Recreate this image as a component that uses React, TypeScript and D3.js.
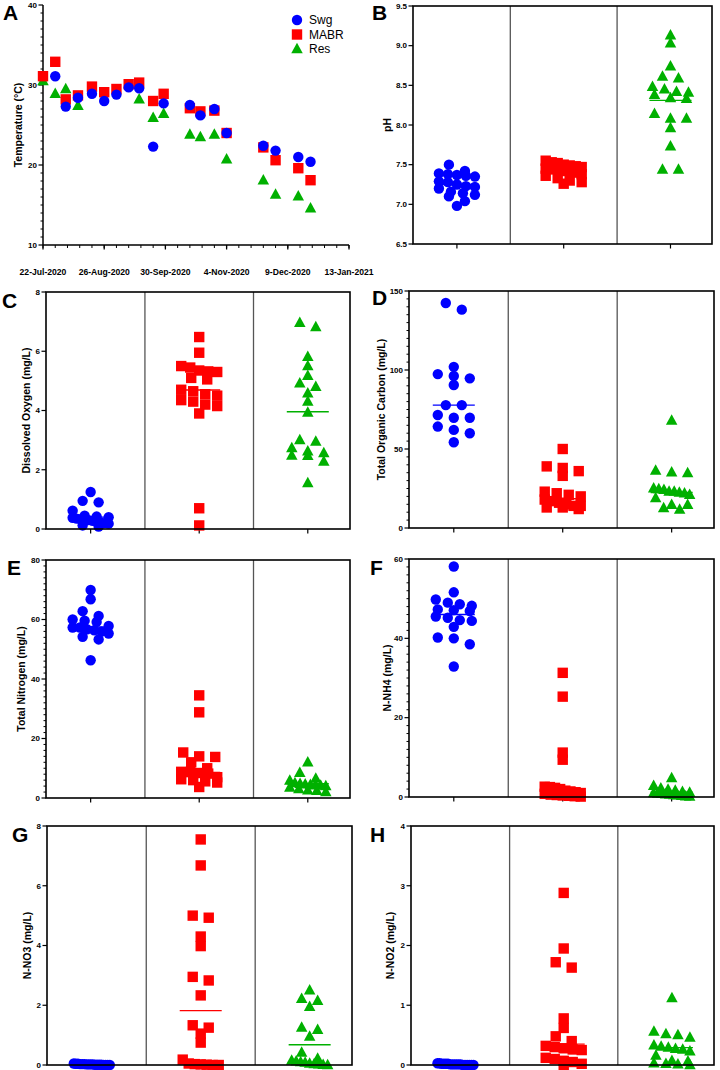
import React from 'react';
import * as d3 from 'd3';

const BLUE = '#0000ff';
const RED = '#ff0000';
const GREEN = '#00b000';
const COLORS = [BLUE, RED, GREEN];
const FONT = "'Liberation Sans', Arial, Helvetica, sans-serif";

const groups = ['Swg', 'MABR', 'Res'];

// ---------- Panel A: temperature time series ----------
const tempDates = [
  '2020-07-22', '2020-07-29', '2020-08-04', '2020-08-11', '2020-08-19', '2020-08-26',
  '2020-09-02', '2020-09-09', '2020-09-15', '2020-09-23', '2020-09-29', '2020-10-14',
  '2020-10-20', '2020-10-28', '2020-11-04', '2020-11-25', '2020-12-02', '2020-12-15', '2020-12-22',
];
const tempSwg = [null, 31.1, 27.3, 28.4, 28.9, 28.0, 28.8, 29.7, 29.6, 22.3, 27.7, 27.5, 26.2, 27.0, 24.0, 22.4, 21.8, 21.0, 20.4];
const tempMABR = [31.1, 32.9, 28.2, 28.7, 29.8, 29.1, 29.5, 30.1, 30.3, 28.0, 28.9, 27.1, 26.7, 26.8, 24.0, 22.2, 20.6, 19.6, 18.1];
const tempRes = [30.5, 28.9, 29.5, 27.4, null, null, null, null, 28.2, 25.9, 26.4, 23.8, 23.5, 23.8, 20.7, 18.1, 16.3, 16.1, 14.6];
const dateTickLabels = ['2020-07-22', '2020-08-26', '2020-09-30', '2020-11-04', '2020-12-09', '2021-01-13'];

// ---------- Panel B: pH ----------
const phSwg = [7.50, 7.42, 7.39, 7.38, 7.37, 7.36, 7.35, 7.29, 7.28, 7.25, 7.23, 7.22, 7.20, 7.16, 7.14, 7.12, 7.10, 7.04, 6.98];
const phMABR = [7.55, 7.53, 7.52, 7.50, 7.49, 7.48, 7.47, 7.45, 7.44, 7.43, 7.42, 7.40, 7.38, 7.36, 7.33, 7.30, 7.28, 7.26];
const phRes = [9.13, 9.03, 8.74, 8.61, 8.59, 8.48, 8.45, 8.42, 8.41, 8.38, 8.34, 8.33, 8.14, 8.08, 8.08, 7.96, 7.73, 7.44, 7.44];
const phMeans = [7.25, 7.42, 8.31];

// ---------- Panel C: dissolved oxygen ----------
const doSwg = [1.25, 0.95, 0.90, 0.62, 0.45, 0.42, 0.40, 0.38, 0.35, 0.33, 0.32, 0.30, 0.28, 0.25, 0.22, 0.20, 0.18, 0.12, 0.08];
const doMABR = [6.48, 5.95, 5.50, 5.45, 5.35, 5.32, 5.30, 5.10, 5.05, 4.70, 4.65, 4.55, 4.50, 4.35, 4.30, 4.20, 4.15, 3.90, 0.70, 0.12];
const doRes = [6.96, 6.82, 5.81, 5.50, 5.17, 4.92, 4.80, 4.58, 4.30, 3.93, 3.00, 2.95, 2.73, 2.62, 2.56, 2.48, 2.47, 2.28, 1.55];
const doMeans = [0.40, 4.69, 3.96];

// ---------- Panel D: total organic carbon ----------
const tocSwg = [142.4, 138.2, 102, 97.4, 96.2, 94.7, 90.5, 77.8, 77.8, 71.5, 69.8, 69.8, 64.2, 62.1, 60.0, 54.3];
const tocMABR = [50, 39, 38, 36, 33, 23, 22, 21, 20, 18, 17, 16, 15, 14, 14, 13, 13, 12];
const tocRes = [68, 36.4, 35.3, 34.7, 25.2, 24.6, 24.2, 23.1, 23.1, 22.5, 22, 21, 18.9, 14.7, 14.7, 12.6, 11.6];
const tocMeans = [77.8, 18.5, 22.5];

// ---------- Panel E: total nitrogen ----------
const tnSwg = [69.9, 66.8, 62.8, 61.2, 60.0, 59.6, 59.2, 57.8, 57.3, 57.3, 56.7, 56.4, 55.9, 55.3, 54.2, 53.3, 46.3];
const tnMABR = [34.5, 28.8, 15.3, 14.0, 13.8, 12.0, 10.0, 8.8, 8.7, 8.4, 8.2, 7.0, 6.3, 6.0, 5.6, 5.2, 3.7];
const tnRes = [12.0, 8.5, 6.5, 5.9, 5.0, 4.8, 4.6, 4.4, 4.3, 4.2, 4.0, 3.5, 3.0, 2.6, 2.4, 2.0];
const tnMeans = [57.5, 8.6, 4.8];

// ---------- Panel F: N-NH4 ----------
const nh4Swg = [58.1, 51.6, 49.8, 49.0, 48.6, 48.2, 47.3, 47.1, 46.9, 45.5, 45.2, 44.6, 44.4, 42.9, 40.2, 40.0, 38.5, 32.9];
const nh4MABR = [31.3, 25.3, 11.2, 9.4, 2.6, 2.5, 2.3, 2.0, 1.6, 1.4, 1.2, 1.0, 0.8, 0.6, 0.5, 0.4, 0.3, 0.2, 0.1];
const nh4Res = [4.8, 2.8, 2.2, 1.9, 1.6, 1.3, 1.1, 1.0, 0.9, 0.8, 0.7, 0.6, 0.5, 0.4, 0.3, 0.2, 0.1];
const nh4Means = [46.0, 1.4, 1.2];

// ---------- Panel G: N-NO3 ----------
const no3Swg = [0.05, 0.04, 0.04, 0.03, 0.03, 0.03, 0.02, 0.02, 0.02, 0.02, 0.01, 0.01, 0.01, 0.01, 0.0, 0.0, 0.0, 0.0];
const no3MABR = [7.55, 6.68, 5.0, 4.93, 4.3, 3.98, 2.95, 2.83, 2.33, 1.33, 1.25, 1.05, 0.75, 0.18, 0.05, 0.03, 0.02, 0.01, 0.0, 0.0];
const no3Res = [2.5, 2.22, 2.15, 1.95, 1.25, 1.18, 0.95, 0.42, 0.22, 0.15, 0.12, 0.1, 0.08, 0.05, 0.03, 0.02, 0.01, 0.0];
const no3Means = [0.02, 1.82, 0.68];

// ---------- Panel H: N-NO2 ----------
const no2Swg = [0.03, 0.03, 0.02, 0.02, 0.02, 0.02, 0.01, 0.01, 0.01, 0.01, 0.01, 0.01, 0.0, 0.0, 0.0, 0.0, 0.0, 0.0];
const no2MABR = [2.88, 1.95, 1.72, 1.63, 0.78, 0.62, 0.48, 0.40, 0.32, 0.30, 0.28, 0.26, 0.25, 0.12, 0.10, 0.07, 0.05, 0.02, 0.0];
const no2Res = [1.12, 0.56, 0.52, 0.50, 0.46, 0.33, 0.31, 0.29, 0.27, 0.26, 0.23, 0.16, 0.07, 0.06, 0.03, 0.02, 0.01, 0.0];
const no2Means = [0.01, 0.35, 0.29];

// ---------- Layout ----------
type DotPanel = {
  letter: string; label: string;
  x0: number; x1: number; y0: number; y1: number;
  domain: [number, number]; step: number; minor: number | null; fmt: string;
  data: number[][]; means: number[];
  letterX: number; letterY: number; labelX: number; bottomTicks: boolean;
};

const dotPanels: DotPanel[] = [
  { letter: 'B', label: 'pH', x0: 413, x1: 712, y0: 6, y1: 244, domain: [6.5, 9.5], step: 0.5, minor: null, fmt: '.1f',
    data: [phSwg, phMABR, phRes], means: phMeans, letterX: 372, letterY: 20, labelX: 387, bottomTicks: true },
  { letter: 'C', label: 'Dissolved Oxygen (mg/L)', x0: 46, x1: 350, y0: 292, y1: 529, domain: [0, 8], step: 2, minor: null, fmt: 'd',
    data: [doSwg, doMABR, doRes], means: doMeans, letterX: 2, letterY: 308, labelX: 26, bottomTicks: true },
  { letter: 'D', label: 'Total Organic Carbon (mg/L)', x0: 409, x1: 714, y0: 291, y1: 528, domain: [0, 150], step: 50, minor: 5, fmt: 'd',
    data: [tocSwg, tocMABR, tocRes], means: tocMeans, letterX: 372, letterY: 305, labelX: 381, bottomTicks: true },
  { letter: 'E', label: 'Total Nitrogen (mg/L)', x0: 46, x1: 350, y0: 560, y1: 798, domain: [0, 80], step: 20, minor: 2, fmt: 'd',
    data: [tnSwg, tnMABR, tnRes], means: tnMeans, letterX: 7, letterY: 575, labelX: 21, bottomTicks: true },
  { letter: 'F', label: 'N-NH4 (mg/L)', x0: 409, x1: 714, y0: 559, y1: 797, domain: [0, 60], step: 20, minor: 2, fmt: 'd',
    data: [nh4Swg, nh4MABR, nh4Res], means: nh4Means, letterX: 370, letterY: 575, labelX: 387, bottomTicks: true },
  { letter: 'G', label: 'N-NO3 (mg/L)', x0: 47, x1: 352, y0: 826, y1: 1065, domain: [0, 8], step: 2, minor: null, fmt: 'd',
    data: [no3Swg, no3MABR, no3Res], means: no3Means, letterX: 12, letterY: 842, labelX: 27, bottomTicks: false },
  { letter: 'H', label: 'N-NO2 (mg/L)', x0: 411, x1: 714, y0: 826, y1: 1065, domain: [0, 4], step: 1, minor: null, fmt: 'd',
    data: [no2Swg, no2MABR, no2Res], means: no2Means, letterX: 370, letterY: 842, labelX: 390, bottomTicks: false },
];

// ---------- Markers ----------
function Marker({ kind, x, y, color }: { kind: number; x: number; y: number; color: string }) {
  if (kind === 0) return <circle cx={x} cy={y} r={5.2} fill={color} />;
  if (kind === 1) return <rect x={x - 5.2} y={y - 5.2} width={10.4} height={10.4} fill={color} />;
  const w = 11.5, h = 10.5;
  return <path d={`M${x},${y - h * 0.6}L${x + w / 2},${y + h * 0.4}L${x - w / 2},${y + h * 0.4}Z`} fill={color} />;
}

// Prism-like scatter layout: group points into rows by pixel position and spread them horizontally
function swarm(vals: number[], y: (v: number) => number, rowPx = 7, maxHalf = 18, gap = 16) {
  const pts = vals.map(v => ({ v, py: y(v) })).sort((a, b) => a.py - b.py);
  const rows: { v: number; py: number }[][] = [];
  let cur: { v: number; py: number }[] = [];
  for (const p of pts) {
    if (cur.length && p.py - cur[0].py > rowPx) { rows.push(cur); cur = []; }
    cur.push(p);
  }
  if (cur.length) rows.push(cur);
  const out: { v: number; py: number; dx: number }[] = [];
  rows.forEach(row => {
    const n = row.length;
    const s = n > 1 ? Math.min(gap, (2 * maxHalf) / (n - 1)) : 0;
    row.forEach((p, i) => out.push({ ...p, dx: (i - (n - 1) / 2) * s }));
  });
  return out;
}

const tickStyle = { fontFamily: FONT, fontSize: 8, fontWeight: 700, fill: '#000' } as const;
const titleStyle = { fontFamily: FONT, fontSize: 10.5, fontWeight: 700, fill: '#000' } as const;
const letterStyle = { fontFamily: FONT, fontSize: 21, fontWeight: 700, fill: '#000' } as const;

function YAxis({ x, y, domain, step, minor, fmt }: { x: number; y: d3.ScaleLinear<number, number>; domain: [number, number]; step: number; minor: number | null; fmt: string }) {
  const majors = d3.range(domain[0], domain[1] + step / 1000, step);
  const minors = minor ? d3.range(domain[0], domain[1] + minor / 1000, minor).filter(v => majors.every(m => Math.abs(m - v) > minor / 100)) : [];
  const f = d3.format(fmt);
  return (
    <g>
      {minors.map((v, i) => <line key={'m' + i} x1={x - 2.5} x2={x} y1={y(v)} y2={y(v)} stroke="#000" strokeWidth={1} />)}
      {majors.map((v, i) => (
        <g key={i}>
          <line x1={x - 4.5} x2={x} y1={y(v)} y2={y(v)} stroke="#000" strokeWidth={1.2} />
          <text x={x - 6} y={y(v)} dy="0.35em" textAnchor="end" style={tickStyle}>{f(v)}</text>
        </g>
      ))}
    </g>
  );
}

function TempPanel() {
  const parse = d3.utcParse('%Y-%m-%d');
  const start = parse('2020-07-22')!;
  const x = d3.scaleUtc().domain([start, parse('2021-01-13')!]).range([43, 349]);
  const y = d3.scaleLinear().domain([10, 40]).range([245, 5]);
  const dates = tempDates.map(d => parse(d)!);
  const weekly = d3.utcWeek.every(1) ? d3.range(0, 176, 7).map(d => d3.utcDay.offset(start, d)) : [];
  const majors = dateTickLabels.map(d => parse(d)!);
  const fmt = d3.utcFormat('%-d-%b-%Y');
  const series = [tempSwg, tempMABR, tempRes];
  const drawOrder = [2, 1, 0];
  return (
    <g>
      <text x={3} y={20} style={letterStyle}>A</text>
      <text transform={`translate(18,${(5 + 245) / 2}) rotate(-90)`} textAnchor="middle" dy="0.35em" style={titleStyle}>Temperature (°C)</text>
      <YAxis x={43} y={y} domain={[10, 40]} step={10} minor={1} fmt="d" />
      <line x1={43} x2={43} y1={5} y2={245} stroke="#000" strokeWidth={1.5} />
      <line x1={43} x2={349} y1={245} y2={245} stroke="#000" strokeWidth={1.5} />
      {weekly.map((d, i) => <line key={i} x1={x(d)} x2={x(d)} y1={245} y2={248} stroke="#000" strokeWidth={1} />)}
      {majors.map((d, i) => (
        <g key={i}>
          <line x1={x(d)} x2={x(d)} y1={245} y2={249.5} stroke="#000" strokeWidth={1.3} />
          <text x={x(d)} y={275} textAnchor="middle" style={{ ...tickStyle, fontSize: 8.6 }}>{fmt(d)}</text>
        </g>
      ))}
      {drawOrder.map(k => (
        <g key={k}>
          {series[k].map((v, i) => v == null ? null : <Marker key={i} kind={k} x={x(dates[i])} y={y(v)} color={COLORS[k]} />)}
        </g>
      ))}
      {groups.map((g, i) => (
        <g key={g}>
          <Marker kind={i} x={297} y={20 + i * 14.5} color={COLORS[i]} />
          <text x={309} y={20 + i * 14.5} dy="0.36em" style={{ fontFamily: FONT, fontSize: 12, fill: '#000' }}>{g}</text>
        </g>
      ))}
    </g>
  );
}

function DotPlot({ p }: { p: DotPanel }) {
  const y = d3.scaleLinear().domain(p.domain).range([p.y1, p.y0]);
  const x = d3.scalePoint<string>().domain(groups).range([p.x0, p.x1]).padding(0.4).align(0.514);
  const cx = groups.map(g => x(g)!);
  const dividers = [(cx[0] + cx[1]) / 2, (cx[1] + cx[2]) / 2];
  return (
    <g>
      <text x={p.letterX} y={p.letterY} style={letterStyle}>{p.letter}</text>
      <text transform={`translate(${p.labelX},${(p.y0 + p.y1) / 2}) rotate(-90)`} textAnchor="middle" dy="0.35em" style={titleStyle}>{p.label}</text>
      <YAxis x={p.x0} y={y} domain={p.domain} step={p.step} minor={p.minor} fmt={p.fmt} />
      {dividers.map((d, i) => <line key={i} x1={d} x2={d} y1={p.y0} y2={p.y1} stroke="#555" strokeWidth={1.3} />)}
      {p.bottomTicks && cx.map((c, i) => <line key={i} x1={c} x2={c} y1={p.y1} y2={p.y1 + 4.5} stroke="#000" strokeWidth={1.2} />)}
      {p.means.map((m, k) => (
        <line key={'mean' + k} x1={cx[k] - 21} x2={cx[k] + 21} y1={y(m)} y2={y(m)} stroke={COLORS[k]} strokeWidth={1.4} />
      ))}
      {p.data.map((vals, k) => (
        <g key={k}>
          {swarm(vals, y).map((pt, i) => <Marker key={i} kind={k} x={cx[k] + pt.dx} y={pt.py} color={COLORS[k]} />)}
        </g>
      ))}
      <rect x={p.x0} y={p.y0} width={p.x1 - p.x0} height={p.y1 - p.y0} fill="none" stroke="#000" strokeWidth={1.6} />
    </g>
  );
}

export default function App() {
  return (
    <svg width={720} height={1070} viewBox="0 0 720 1070" style={{ position: 'absolute', left: 0, top: 0, background: '#fff' }}>
      <rect x={0} y={0} width={720} height={1070} fill="#fff" />
      <TempPanel />
      {dotPanels.map(p => <DotPlot key={p.letter} p={p} />)}
    </svg>
  );
}
